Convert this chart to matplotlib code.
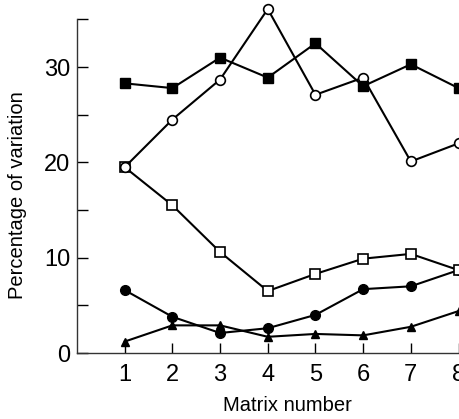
import matplotlib
matplotlib.use("Agg")
import matplotlib.pyplot as plt

plt.rcParams['font.family'] = ['Liberation Sans', 'DejaVu Sans']

# Matrix numbers
matrix = [1, 2, 3, 4, 5, 6, 7, 8]

# Percentage of variation per series
filled_sq = [28.3, 27.8, 31.0, 28.9, 32.5, 28.0, 30.3, 27.8]
open_circ = [19.5, 24.5, 28.7, 36.1, 27.1, 28.9, 20.1, 22.0]
open_sq = [19.5, 15.5, 10.6, 6.5, 8.3, 9.9, 10.4, 8.7]
filled_circ = [6.6, 3.8, 2.1, 2.6, 4.0, 6.7, 7.0, 8.7]
filled_tri = [1.2, 2.9, 2.9, 1.7, 2.0, 1.85, 2.75, 4.4]

yticks = [0, 5, 10, 15, 20, 25, 30, 35]
ylabels = ['0', '', '10', '', '20', '', '30', '']

fig = plt.figure(figsize=(4.59, 4.19), dpi=100)
ax = fig.add_axes([77 / 459, 66 / 419, 382 / 459, 333.5 / 419])

kw = dict(color='black', lw=1.5, clip_on=False, zorder=3)
ax.plot(matrix, filled_tri, marker='^', ms=6, mfc='black', mec='black', **kw)
ax.plot(matrix, filled_circ, marker='o', ms=7, mfc='black', mec='black', **kw)
ax.plot(matrix, open_sq, marker='s', ms=6.5, mfc='white', mec='black', mew=1.2, **kw)
ax.plot(matrix, open_circ, marker='o', ms=7, mfc='white', mec='black', mew=1.2, **kw)
ax.plot(matrix, filled_sq, marker='s', ms=6.5, mfc='black', mec='black', **kw)

ax.set_xlim(0, 8.01)
ax.set_ylim(0, 35)
ax.set_xticks(matrix)
ax.set_yticks(yticks)
ax.set_yticklabels(ylabels)

for s in ['top', 'right']:
    ax.spines[s].set_visible(False)
for s in ['left', 'bottom']:
    ax.spines[s].set_linewidth(1.0)
    ax.spines[s].set_color('#333333')

ax.tick_params(axis='x', direction='in', length=7, width=1, labelsize=17, pad=8)
ax.tick_params(axis='y', direction='in', length=8, width=1, labelsize=17, pad=5)

ax.set_xlabel('Matrix number', fontsize=14.5)
ax.set_ylabel('Percentage of variation', fontsize=14.5)
ax.xaxis.set_label_coords(0.551, -0.128)
ax.yaxis.set_label_coords(-0.131, 0.474)

fig.savefig('out.png', dpi=100)
